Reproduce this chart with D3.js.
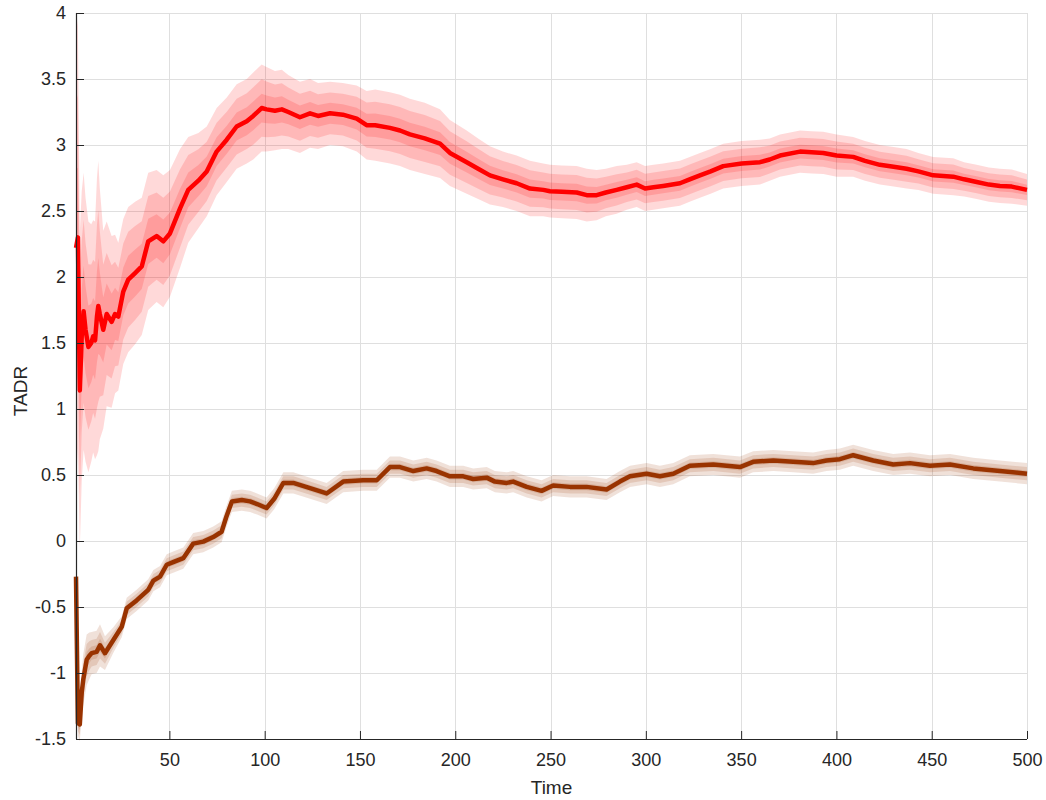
<!DOCTYPE html>
<html>
<head>
<meta charset="utf-8">
<script src="https://cdn.jsdelivr.net/npm/d3@7"></script>
<style>
  body { margin: 0; background: #fff; }
  svg { display: block; font-family: "Liberation Sans", Arial, sans-serif; }
</style>
</head>
<body>
<div id="chart"></div>
<script>
// red series: time, mean, band half-width
const redTime = [1, 2, 3, 4, 5, 6, 7.5, 9, 10, 11, 12, 12.7, 13.5, 15.3, 17.1, 19.7, 21.5, 23.2, 25.8, 28.4,
  32, 35.5, 38.9, 43.3, 46.8, 50.3, 55.6, 59.9, 65.2, 69.6, 74.8, 80.1, 85.3, 90.6, 94, 98.4, 101, 105.4, 109, 112.4,
  118.5, 123.8, 128, 134.3, 141, 148.3, 153.5, 158, 165.7, 171, 176.2, 184, 192, 197.2, 206, 212, 218.2, 225, 232.2, 239.2,
  246.2, 249.7, 256, 263.7, 269, 274.2, 279, 284.7, 290, 295.2, 299.6, 304, 309.1, 317.9, 323, 328.4, 334, 340.6, 350.3, 359.9,
  365, 370.4, 380.9, 387, 393.1, 400.1, 408.8, 415, 422.8, 430, 436.8, 443, 450.8, 461.3, 467, 473.6, 480, 485.8, 492, 500];
const redMean = [2.22, 2.30, 1.14, 1.55, 1.74, 1.60, 1.47, 1.50, 1.55, 1.52, 1.70, 1.78, 1.72, 1.60, 1.72, 1.66, 1.72, 1.70, 1.89, 1.98,
  2.03, 2.08, 2.27, 2.31, 2.27, 2.33, 2.52, 2.66, 2.73, 2.80, 2.95, 3.04, 3.14, 3.18, 3.22, 3.28, 3.27, 3.26, 3.27, 3.25,
  3.21, 3.24, 3.22, 3.24, 3.23, 3.20, 3.15, 3.15, 3.13, 3.11, 3.08, 3.05, 3.01, 2.94, 2.87, 2.82, 2.77, 2.74, 2.71, 2.67,
  2.66, 2.65, 2.645, 2.64, 2.62, 2.62, 2.64, 2.66, 2.68, 2.70, 2.67, 2.68, 2.69, 2.71, 2.74, 2.77, 2.80, 2.84, 2.86, 2.87,
  2.89, 2.92, 2.95, 2.945, 2.94, 2.92, 2.91, 2.88, 2.85, 2.835, 2.82, 2.80, 2.77, 2.76, 2.74, 2.72, 2.70, 2.69, 2.685, 2.66];
const redSpread = [1.8, 1.6, 1.2, 1.1, 1.05, 1.0, 0.95, 0.9, 0.88, 0.9, 1.05, 1.1, 0.95, 0.75, 0.7, 0.65, 0.6, 0.56, 0.55, 0.55,
  0.54, 0.52, 0.52, 0.5, 0.5, 0.48, 0.45, 0.4, 0.36, 0.34, 0.33, 0.32, 0.32, 0.32, 0.33, 0.33, 0.32, 0.3, 0.3, 0.28,
  0.27, 0.26, 0.25, 0.24, 0.24, 0.25, 0.26, 0.27, 0.27, 0.27, 0.27, 0.27, 0.26, 0.25, 0.24, 0.23, 0.22, 0.21, 0.21, 0.21,
  0.2, 0.2, 0.2, 0.2, 0.2, 0.19, 0.18, 0.18, 0.17, 0.17, 0.17, 0.17, 0.17, 0.17, 0.17, 0.17, 0.17, 0.17, 0.17, 0.17,
  0.16, 0.16, 0.16, 0.16, 0.16, 0.16, 0.15, 0.15, 0.15, 0.15, 0.15, 0.14, 0.14, 0.14, 0.13, 0.13, 0.13, 0.13, 0.13, 0.12];

// brown series
const brownTime = [1, 2, 3, 4, 4.8, 6.6, 8, 9.2, 11.8, 13.6, 16.2, 20.6, 25, 27.6, 32.8, 38.9, 41.6, 45.1, 48.6, 52,
  57.3, 62.5, 67.8, 73, 77.4, 79.8, 82.8, 88, 92.3, 96, 101, 105, 109.8, 115, 123.8, 132.5, 141.2, 151.7, 158.8, 165.7,
  171, 178, 185, 190.2, 197.2, 204.2, 209.4, 216.5, 220.8, 227, 230.4, 237.5, 245.3, 251.4, 260.2, 268.9, 279.4, 286.4, 291.7, 300.4,
  307.4, 314.4, 323.1, 335.4, 349.4, 356.3, 366.9, 377.3, 387.8, 394.8, 401.8, 408.8, 419.3, 429.8, 438.6, 449.1, 459.6, 471.8, 485.8, 500];
const brownMean = [-0.27, -1.38, -1.39, -1.15, -1.05, -0.90, -0.87, -0.85, -0.84, -0.79, -0.85, -0.75, -0.65, -0.51, -0.45, -0.37, -0.30, -0.27, -0.18, -0.16,
  -0.13, -0.02, -0.005, 0.03, 0.07, 0.18, 0.30, 0.31, 0.30, 0.28, 0.25, 0.32, 0.44, 0.44, 0.40, 0.36, 0.45, 0.46, 0.46, 0.56,
  0.56, 0.53, 0.55, 0.53, 0.49, 0.49, 0.47, 0.48, 0.45, 0.44, 0.45, 0.41, 0.38, 0.42, 0.41, 0.41, 0.39, 0.45, 0.49, 0.51,
  0.49, 0.51, 0.57, 0.58, 0.56, 0.60, 0.61, 0.60, 0.59, 0.61, 0.62, 0.65, 0.61, 0.58, 0.59, 0.57, 0.58, 0.55, 0.53, 0.51];
const brownSpread = [0.03, 0.06, 0.08, 0.1, 0.12, 0.12, 0.11, 0.1, 0.1, 0.1, 0.08, 0.06, 0.05, 0.05, 0.05, 0.05, 0.05, 0.05, 0.05, 0.05,
  0.05, 0.05, 0.05, 0.05, 0.05, 0.05, 0.05, 0.05, 0.05, 0.05, 0.05, 0.05, 0.05, 0.05, 0.05, 0.05, 0.05, 0.05, 0.05, 0.05,
  0.05, 0.05, 0.05, 0.05, 0.05, 0.05, 0.05, 0.05, 0.05, 0.05, 0.05, 0.05, 0.05, 0.05, 0.05, 0.05, 0.05, 0.05, 0.05, 0.05,
  0.05, 0.05, 0.05, 0.05, 0.05, 0.05, 0.05, 0.05, 0.05, 0.05, 0.05, 0.05, 0.05, 0.05, 0.05, 0.05, 0.05, 0.05, 0.05, 0.05];

const xTicks = [50, 100, 150, 200, 250, 300, 350, 400, 450, 500];
const yTicks = [-1.5, -1, -0.5, 0, 0.5, 1, 1.5, 2, 2.5, 3, 3.5, 4];

const width = 1046, height = 800;
const plotL = 76, plotR = 1027, plotT = 13, plotB = 739;

const x = d3.scaleLinear().domain([1, 500]).range([plotL, plotR]);
const y = d3.scaleLinear().domain([-1.5, 4]).range([plotB, plotT]);

const svg = d3.select("#chart").append("svg")
    .attr("width", width)
    .attr("height", height);

// grid
const grid = svg.append("g").attr("stroke", "#dfdfdf").attr("stroke-width", 1);
grid.selectAll(".gx").data(xTicks).join("line")
    .attr("x1", d => Math.round(x(d)) + 0.5).attr("x2", d => Math.round(x(d)) + 0.5)
    .attr("y1", plotT).attr("y2", plotB);
grid.selectAll(".gy").data(yTicks).join("line")
    .attr("y1", d => Math.round(y(d)) + 0.5).attr("y2", d => Math.round(y(d)) + 0.5)
    .attr("x1", plotL).attr("x2", plotR);

function series(time, mean, spread) {
  return time.map((t, i) => ({t: t, m: mean[i], s: spread[i]}));
}

function drawSeries(data, col, levels, lw) {
  const g = svg.append("g");
  levels.forEach(k => {
    g.append("path")
      .datum(data)
      .attr("fill", col)
      .attr("fill-opacity", 0.15)
      .attr("d", d3.area()
        .x(d => x(d.t))
        .y0(d => y(d.m - d.s * k))
        .y1(d => y(d.m + d.s * k)));
  });
  g.append("path")
    .datum(data)
    .attr("fill", "none")
    .attr("stroke", col)
    .attr("stroke-width", lw)
    .attr("stroke-linejoin", "round")
    .attr("d", d3.line().x(d => x(d.t)).y(d => y(d.m)));
}

drawSeries(series(redTime, redMean, redSpread), "#ff0000", [1, 0.66, 0.33], 4.5);
drawSeries(series(brownTime, brownMean, brownSpread), "#993300", [1.6, 1, 0.5], 4.5);

// axes
const xAxis = svg.append("g")
    .attr("transform", `translate(0,${plotB})`)
    .call(d3.axisBottom(x).tickValues(xTicks).tickSize(-8).tickPadding(14).tickSizeOuter(0));
const yAxis = svg.append("g")
    .attr("transform", `translate(${plotL},0)`)
    .call(d3.axisLeft(y).tickValues(yTicks).tickSize(-8).tickPadding(10).tickSizeOuter(0)
      .tickFormat(d => String(d)));

[xAxis, yAxis].forEach(a => {
  a.select(".domain").attr("stroke", "#262626").attr("stroke-width", 1.2);
  a.selectAll(".tick line").attr("stroke", "#262626");
  a.selectAll(".tick text").attr("fill", "#262626").style("font-size", "18px");
});
yAxis.select(".domain").attr("d", `M0.5,${plotT}V${plotB}`);
xAxis.select(".domain").attr("d", `M${plotL},0.5H${plotR}`);

svg.append("text")
    .attr("x", (plotL + plotR) / 2)
    .attr("y", 794)
    .attr("text-anchor", "middle")
    .attr("fill", "#262626")
    .style("font-size", "19px")
    .text("Time");

svg.append("text")
    .attr("transform", `translate(27,${(plotT + plotB) / 2 + 15}) rotate(-90)`)
    .attr("text-anchor", "middle")
    .attr("fill", "#262626")
    .style("font-size", "19px")
    .text("TADR");
</script>
</body>
</html>
